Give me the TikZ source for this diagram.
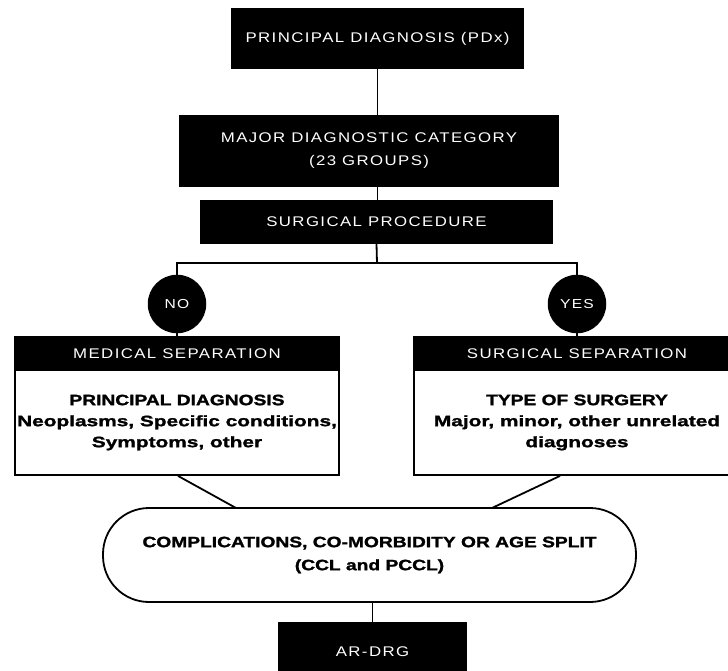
\documentclass[tikz,border=0pt]{standalone}
\usepackage{fontspec}
\setmainfont{Liberation Sans}
% thin spaced capitals in the black bars, heavy wide type in the white boxes
\newfontfamily\hdrfont{Liberation Sans}[LetterSpace=10, FakeStretch=1.2]
\newfontfamily\bodyfont{Liberation Sans Bold}[FakeStretch=1.28, FakeBold=1.6]
\newfontfamily\detailfont{Liberation Sans Bold}[FakeStretch=1.39, FakeBold=1.6]
\begin{document}
\begin{tikzpicture}[x=1pt,y=-1pt,
  hdr/.style={font=\hdrfont\fontsize{14}{23}\selectfont, text=white},
  darkbox/.style={rectangle, draw=black, fill=black, line width=1.5pt,
    inner sep=0pt, align=center, hdr},
  bodybox/.style={rectangle, draw=black, fill=white, line width=1.8pt,
    inner sep=0pt, align=center, font=\bodyfont\fontsize{15}{21}\selectfont},
  decision/.style={circle, draw=black, fill=black, line width=1.5pt,
    inner sep=0pt, minimum size=57pt, hdr, font=\hdrfont\fontsize{13}{15}\selectfont},
  link/.style={draw=black, line width=1.8pt}
]
\useasboundingbox (0,0) rectangle (728,671);
\clip (0,0) rectangle (728,671);
\fill[white] (0,0) rectangle (728,671);

% top of the chain
\node[darkbox, minimum width=291pt, minimum height=59pt] (pdx) at (377.5,38.5)
  {PRINCIPAL DIAGNOSIS (PDx)};
\node[darkbox, minimum width=378pt, minimum height=70pt] (mdc) at (369,151)
  {MAJOR DIAGNOSTIC CATEGORY\\(23 GROUPS)};
\node[darkbox, minimum width=351pt, minimum height=42pt] (proc) at (376.5,222)
  {SURGICAL PROCEDURE};

\draw[link] (pdx.south) -- (pdx.south |- mdc.north);
\draw[link] (pdx.south |- mdc.south) -- (pdx.south |- proc.north);

% yes / no split
\coordinate (split) at (377,263);
\node[decision] (no)  at (177,304) {NO};
\node[decision] (yes) at (577,304) {YES};
\draw[link] (proc.south) -- (split);
\draw[link] (no.north) |- (split) -| (yes.north);

% the two separation boxes
\node[darkbox, minimum width=324pt, minimum height=33pt] (medhead) at (177,353.5)
  {MEDICAL SEPARATION};
\node[bodybox, minimum width=324pt, minimum height=105pt] (medbody) at (177,422.5)
  {PRINCIPAL DIAGNOSIS\\{\detailfont Neoplasms, Specific conditions,}\\{\detailfont Symptoms, other}};
\node[darkbox, minimum width=326pt, minimum height=33pt] (surghead) at (577,353.5)
  {SURGICAL SEPARATION};
\node[bodybox, minimum width=326pt, minimum height=105pt] (surgbody) at (577,422.5)
  {TYPE OF SURGERY\\{\detailfont Major, minor, other unrelated}\\{\detailfont diagnoses}};

\draw[link] (no.south) -- (medhead.north);
\draw[link] (yes.south) -- (surghead.north);

% merge into the split node
\node[bodybox, rounded corners=46pt, minimum width=533pt, minimum height=94pt,
  font=\bodyfont\fontsize{15}{23}\selectfont] (split2) at (369.5,555)
  {COMPLICATIONS, CO-MORBIDITY OR AGE SPLIT\\(CCL and PCCL)};
\coordinate (inl) at (236,508);
\coordinate (inr) at (492,508);
\draw[link] ([xshift=1pt]medbody.south) -- (inl);
\draw[link] ([xshift=-17pt]surgbody.south) -- (inr);

% result
\node[darkbox, minimum width=187pt, minimum height=58pt] (drg) at (372.5,652)
  {AR-DRG};
\draw[link] (drg.north |- split2.south) -- (drg.north);
\end{tikzpicture}
\end{document}
